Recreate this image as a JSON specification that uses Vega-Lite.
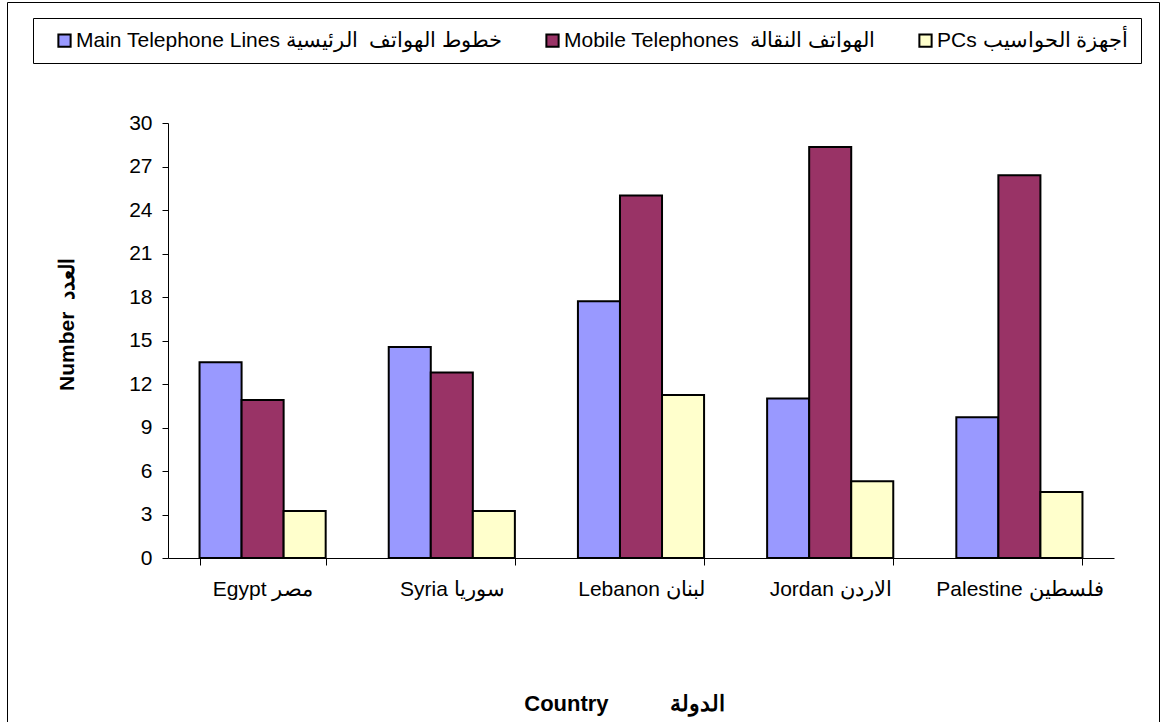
{
  "$schema": "https://vega.github.io/schema/vega-lite/v6.json",
  "autosize": {"type": "none"},
  "padding": {"left": 7, "top": 2, "right": 1, "bottom": 0},
  "width": 1152,
  "height": 720,
  "background": "white",
  "config": {
    "font": "Liberation Sans",
    "view": {"stroke": "black", "strokeWidth": 1}
  },
  "data": {
    "values": [
      {"country": "Egypt مصر", "series": "Main Telephone Lines خطوط الهواتف\u00a0\u00a0الرئيسية", "value": 13.5},
      {"country": "Egypt مصر", "series": "Mobile Telephones\u00a0\u00a0الهواتف النقالة", "value": 10.9},
      {"country": "Egypt مصر", "series": "PCs\u00a0أجهزة الحواسيب", "value": 3.25},
      {"country": "Syria سوريا", "series": "Main Telephone Lines خطوط الهواتف\u00a0\u00a0الرئيسية", "value": 14.55},
      {"country": "Syria سوريا", "series": "Mobile Telephones\u00a0\u00a0الهواتف النقالة", "value": 12.8},
      {"country": "Syria سوريا", "series": "PCs\u00a0أجهزة الحواسيب", "value": 3.25},
      {"country": "Lebanon لبنان", "series": "Main Telephone Lines خطوط الهواتف\u00a0\u00a0الرئيسية", "value": 17.7},
      {"country": "Lebanon لبنان", "series": "Mobile Telephones\u00a0\u00a0الهواتف النقالة", "value": 25.0},
      {"country": "Lebanon لبنان", "series": "PCs\u00a0أجهزة الحواسيب", "value": 11.25},
      {"country": "Jordan الاردن", "series": "Main Telephone Lines خطوط الهواتف\u00a0\u00a0الرئيسية", "value": 11.0},
      {"country": "Jordan الاردن", "series": "Mobile Telephones\u00a0\u00a0الهواتف النقالة", "value": 28.35},
      {"country": "Jordan الاردن", "series": "PCs\u00a0أجهزة الحواسيب", "value": 5.3},
      {"country": "Palestine فلسطين", "series": "Main Telephone Lines خطوط الهواتف\u00a0\u00a0الرئيسية", "value": 9.7},
      {"country": "Palestine فلسطين", "series": "Mobile Telephones\u00a0\u00a0الهواتف النقالة", "value": 26.4},
      {"country": "Palestine فلسطين", "series": "PCs\u00a0أجهزة الحواسيب", "value": 4.55}
    ]
  },
  "mark": {"type": "bar", "stroke": "black", "strokeWidth": 2},
  "encoding": {
    "x": {
      "field": "country",
      "type": "nominal",
      "sort": ["Egypt مصر", "Syria سوريا", "Lebanon لبنان", "Jordan الاردن", "Palestine فلسطين"],
      "scale": {"range": [161, 1107], "paddingInner": 0.3333, "paddingOuter": 0.1667},
      "axis": {
        "title": "Country\u00a0\u00a0\u00a0\u00a0\u00a0\u00a0\u00a0\u00a0\u00a0\u00a0الدولة",
        "titleFont": "Liberation Sans",
        "titleFontSize": 22,
        "titleFontWeight": "bold",
        "titleColor": "black",
        "titleX": 617,
        "titleY": 145,
        "titleAnchor": null,
        "titleAlign": "center",
        "titleBaseline": "middle",
        "offset": -164,
        "labelAngle": 0,
        "labelFontSize": 21,
        "labelColor": "black",
        "labelPadding": 13,
        "labelLimit": 300,
        "tickBand": "extent",
        "tickColor": "black",
        "tickSize": 7,
        "domainColor": "black",
        "domainWidth": 1,
        "grid": false
      }
    },
    "xOffset": {
      "field": "series",
      "type": "nominal",
      "sort": ["Main Telephone Lines خطوط الهواتف\u00a0\u00a0الرئيسية", "Mobile Telephones\u00a0\u00a0الهواتف النقالة", "PCs\u00a0أجهزة الحواسيب"],
      "scale": {"paddingInner": 0, "paddingOuter": 0}
    },
    "y": {
      "field": "value",
      "type": "quantitative",
      "scale": {"domain": [0, 30], "nice": false, "range": [556, 121]},
      "axis": {
        "title": "Number\u00a0\u00a0العدد",
        "titleFont": "Liberation Sans",
        "titleFontSize": 21,
        "titleFontWeight": "bold",
        "titleColor": "black",
        "titleAngle": -90,
        "titleX": -101,
        "titleY": 322,
        "titleAnchor": null,
        "titleAlign": "center",
        "titleBaseline": "middle",
        "offset": -161,
        "values": [0, 3, 6, 9, 12, 15, 18, 21, 24, 27, 30],
        "labelFontSize": 21,
        "labelColor": "black",
        "labelPadding": 10,
        "tickColor": "black",
        "tickSize": 6,
        "domainColor": "black",
        "grid": false
      }
    },
    "color": {
      "field": "series",
      "type": "nominal",
      "sort": ["Main Telephone Lines خطوط الهواتف\u00a0\u00a0الرئيسية", "Mobile Telephones\u00a0\u00a0الهواتف النقالة", "PCs\u00a0أجهزة الحواسيب"],
      "scale": {"range": ["#9999FF", "#993366", "#FFFFCC"]},
      "legend": {
        "title": null,
        "orient": "none",
        "legendX": 26,
        "legendY": 16,
        "direction": "horizontal",
        "fillColor": "white",
        "strokeColor": "black",
        "padding": 12,
        "symbolOffset": 9,
        "symbolType": "square",
        "symbolSize": 150,
        "symbolStrokeColor": "black",
        "symbolStrokeWidth": 2,
        "symbolOpacity": 1,
        "labelFontSize": 21,
        "labelColor": "black",
        "labelLimit": 600,
        "labelOffset": 1,
        "columnPadding": 30
      }
    }
  }
}
